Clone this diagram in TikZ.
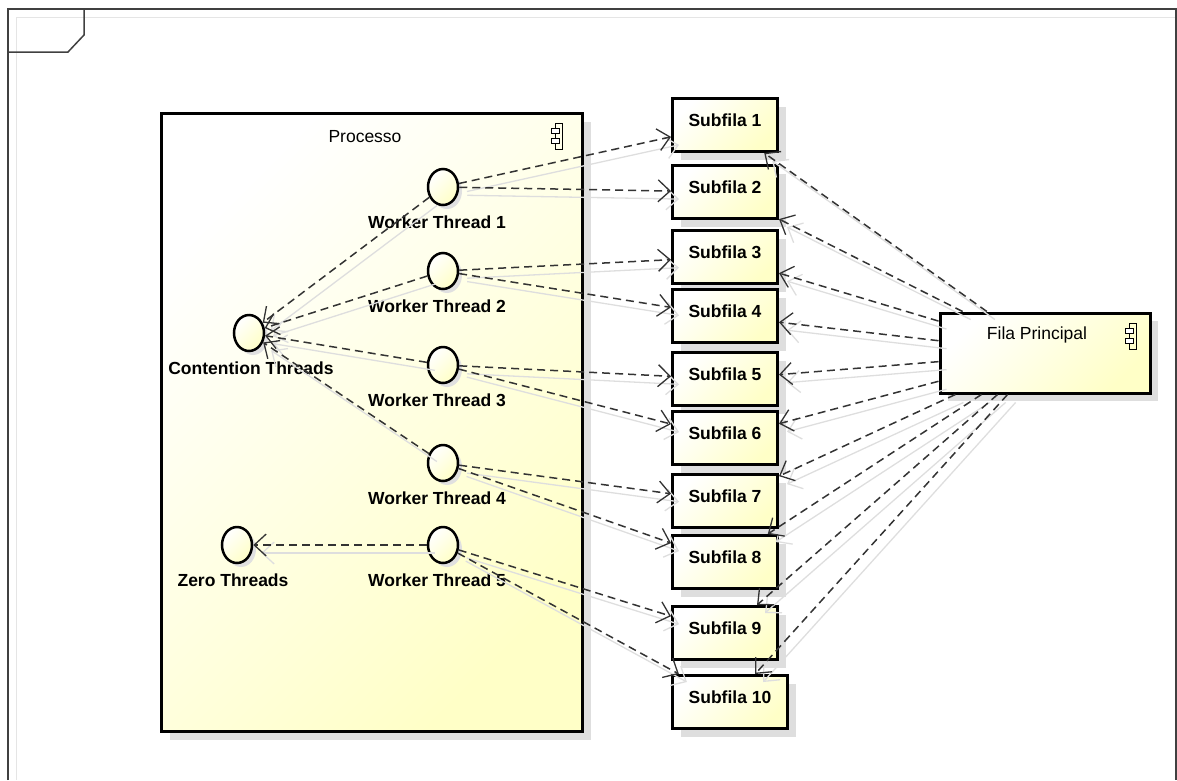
\documentclass[tikz,border=0pt]{standalone}
\usepackage{fontspec}
\setmainfont{Liberation Sans}
\usetikzlibrary{shapes.geometric,shadows,arrows.meta}
\newcommand{\lblfont}{\fontsize{17.5}{20}\selectfont}
\newcommand{\dep}[2]{%
  \draw[depshade] (#1) -- (#2);
  \draw[dep] (#1) -- (#2);}

\begin{document}
\begin{tikzpicture}[x=1pt, y=-1pt]
  \tikzset{
    pale/.style={top color=white, bottom color=yellow!22, shading angle=45},
    comp/.style={draw, line width=3pt, pale,
      drop shadow={shadow xshift=8pt, shadow yshift=-8pt, fill=black!13, opacity=1}},
    subfila/.style={comp, minimum width=105, minimum height=53,
      font=\lblfont\bfseries, text depth=10pt},
    thread/.style={ellipse, draw, line width=2.5pt, pale, minimum width=30,
      minimum height=36, inner sep=0pt,
      drop shadow={shadow xshift=4pt, shadow yshift=-4pt, fill=black!12, opacity=1}},
    lbl/.style={font=\lblfont\bfseries, label distance=6pt},
    wlbl/.style={lbl, xshift=-6pt},
    dep/.style={draw=black!80, line width=1.5pt, dash pattern=on 8pt off 5pt,
      -{Straight Barb[length=12pt, width=22pt, line width=1.3pt]}},
    depshade/.style={draw=black!13, line width=1.3pt,
      -{Straight Barb[length=12pt, width=22pt]}, transform canvas={shift={(8,8)}}},
    frame/.style={draw=black!75, line width=1.5pt},
    compicon/.pic={
      \draw[line width=1pt] (-1.5,-13) rectangle (5.5,13);
      \draw[line width=1pt, fill=white] (-5.5,-8) rectangle (2.5,-3);
      \draw[line width=1pt, fill=white] (-5.5,2) rectangle (2.5,7);
    }
  }
  \useasboundingbox (0,0) rectangle (1177,780);

  % frame
  \draw[black!10, line width=1pt] (16,780) -- (16,17) -- (1177,17);
  \draw[frame] (8,780) -- (8,9) -- (1176,9) -- (1176,780);
  \draw[frame] (8,52) -- (68,52) -- (84,35) -- (84,9);

  % Processo
  \node[comp, minimum width=421, minimum height=618, anchor=north west] (proc) at (160,112) {};
  \node[font=\lblfont] (proctitle) at (365,137) {Processo};
  \pic at (557,136) {compicon};

  \node[thread, label={[wlbl]below:Worker Thread 1}] (w1) at (443,187) {};
  \node[thread, label={[wlbl]below:Worker Thread 2}] (w2) at (443,271) {};
  \node[thread, label={[wlbl]below:Worker Thread 3}] (w3) at (443,365) {};
  \node[thread, label={[wlbl]below:Worker Thread 4}] (w4) at (443,463) {};
  \node[thread, label={[wlbl]below:Worker Thread 5}] (w5) at (443,545) {};
  \node[thread, label={[lbl, xshift=2pt]below:Contention Threads}] (ct) at (249,333) {};
  \node[thread, label={[lbl, xshift=-4pt]below:Zero Threads}] (zt) at (237,545) {};

  % subfilas
  \node[subfila] (s1) at (725,125) {Subfila 1};
  \node[subfila] (s2) at (725,192) {Subfila 2};
  \node[subfila] (s3) at (725,257) {Subfila 3};
  \node[subfila] (s4) at (725,316) {Subfila 4};
  \node[subfila] (s5) at (725,379) {Subfila 5};
  \node[subfila] (s6) at (725,438) {Subfila 6};
  \node[subfila] (s7) at (725,501) {Subfila 7};
  \node[subfila] (s8) at (725,562) {Subfila 8};
  \node[subfila] (s9) at (725,633) {Subfila 9};
  \node[subfila, minimum width=115] (s10) at (730,702) {Subfila 10};

  % Fila Principal
  \node[comp, minimum width=210, minimum height=80] (fp) at (1045,353) {};
  \node[font=\lblfont] (fptitle) at (1037,335) {Fila Principal};
  \pic at (1131,336) {compicon};

  % dependencies
  \dep{w1}{s1} \dep{w1}{s2} \dep{w1}{ct}
  \dep{w2}{s3} \dep{w2}{s4} \dep{w2}{ct}
  \dep{w3}{s5} \dep{w3}{s6} \dep{w3}{ct}
  \dep{w4}{s7} \dep{w4}{s8} \dep{w4}{ct}
  \dep{w5}{s9} \dep{w5}{s10} \dep{w5}{zt}
  \foreach \i in {1,...,10} {\dep{fp}{s\i}}
\end{tikzpicture}
\end{document}
